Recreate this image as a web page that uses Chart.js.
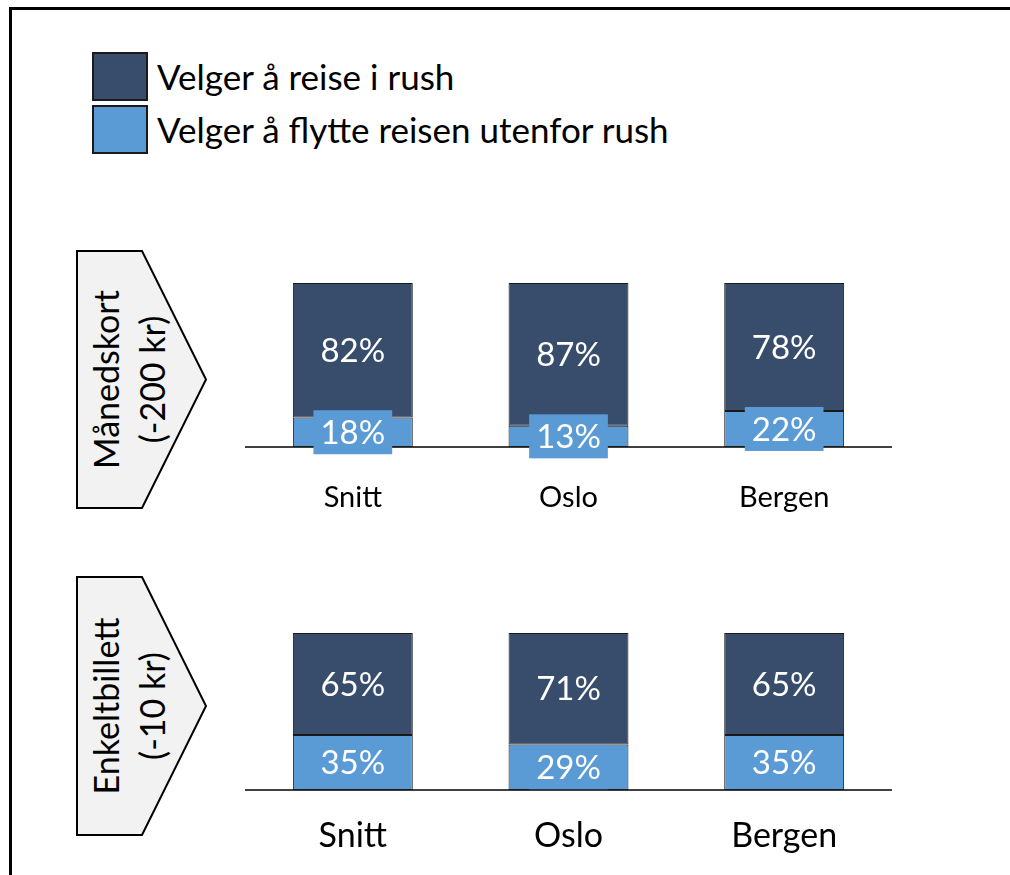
<!DOCTYPE html>
<html>
<head>
<meta charset="utf-8">
<script src="https://cdn.jsdelivr.net/npm/chart.js@4.4.1/dist/chart.umd.min.js"></script>
<style>
  html, body { margin: 0; padding: 0; background: #fff; }
  body { width: 1010px; height: 875px; position: relative; overflow: hidden; font-family: Lato, "Open Sans", sans-serif; }
  .frame { position: absolute; left: 9px; top: 7px; width: 1200px; height: 1000px; border-left: 3px solid #000; border-top: 3px solid #000; }
  .legend-item { position: absolute; left: 92px; height: 48px; display: flex; align-items: center; }
  .legend-item .box { width: 52px; height: 45px; border: 2px solid #1a1a1a; margin-right: 9px; }
  .legend-item span { font-size: 35px; color: #000; }
  canvas { position: absolute; }
  svg { position: absolute; left: 0; top: 0; }
</style>
</head>
<body>
<div class="frame"></div>
<div id="legend"></div>
<svg id="tags" width="1010" height="875"></svg>
<canvas id="c1" width="647" height="250" style="left:245px; top:270px"></canvas>
<canvas id="c2" width="647" height="250" style="left:245px; top:620px"></canvas>
<script>
const categories = ['Snitt', 'Oslo', 'Bergen'];
const seriesNames = ['Velger å reise i rush', 'Velger å flytte reisen utenfor rush'];
const seriesColors = ['#384d6c', '#5b9bd5'];

// Månedskort (-200 kr)
const maanedRush = [82, 87, 78];
const maanedFlytt = [18, 13, 22];
// Enkeltbillett (-10 kr)
const enkeltRush = [65, 71, 65];
const enkeltFlytt = [35, 29, 35];

const panelTitles = [['Månedskort', '(-200 kr)'], ['Enkeltbillett', '(-10 kr)']];

// legend
const legend = document.getElementById('legend');
seriesNames.forEach((name, i) => {
    const item = document.createElement('div');
    item.className = 'legend-item';
    item.style.top = (i === 0 ? 52 : 105) + 'px';
    item.innerHTML = `<div class="box" style="background:${seriesColors[i]}"></div><span>${name}</span>`;
    legend.appendChild(item);
});

// pentagon tags
const svg = document.getElementById('tags');
const tagPos = [{ top: 251, bottom: 508 }, { top: 577, bottom: 835 }];
tagPos.forEach((p, i) => {
    const mid = (p.top + p.bottom) / 2;
    const pts = `77,${p.top} 142,${p.top} 206,${mid} 142,${p.bottom} 77,${p.bottom}`;
    svg.insertAdjacentHTML('beforeend',
        `<polygon points="${pts}" fill="#f2f2f2" stroke="#000" stroke-width="2"/>`);
    [105, 151].forEach((x, j) => {
        svg.insertAdjacentHTML('beforeend',
            `<text transform="translate(${x},${mid}) rotate(-90)" text-anchor="middle" dominant-baseline="central" font-family="Lato" font-size="34" fill="#000">${panelTitles[i][j]}</text>`);
    });
});

const barLabels = {
    id: 'barLabels',
    afterDatasetsDraw(chart) {
        const ctx = chart.ctx;
        ctx.save();
        ctx.font = '33px Lato';
        ctx.textAlign = 'center';
        ctx.textBaseline = 'middle';
        chart.data.datasets.forEach((ds, di) => {
            const meta = chart.getDatasetMeta(di);
            meta.data.forEach((bar, k) => {
                const txt = ds.data[k] + '%';
                const cy = (bar.y + bar.base) / 2;
                if (ds.labelBox) {
                    const w = ctx.measureText(txt).width + 14;
                    ctx.fillStyle = ds.backgroundColor;
                    ctx.fillRect(bar.x - w / 2, cy - 22, w, 44);
                }
                ctx.fillStyle = '#fff';
                ctx.fillText(txt, bar.x, cy + 1);
            });
        });
        ctx.restore();
    }
};

function makeChart(id, flytt, rush, tickSize, tickPad, axisH) {
    new Chart(document.getElementById(id), {
        type: 'bar',
        data: {
            labels: categories,
            datasets: [
                { label: seriesNames[1], data: flytt, backgroundColor: seriesColors[1], labelBox: true },
                { label: seriesNames[0], data: rush, backgroundColor: seriesColors[0] }
            ].map(d => Object.assign(d, {
                borderColor: '#1a1a1a',
                borderWidth: 1,
                borderSkipped: false,
                barPercentage: 0.556,
                categoryPercentage: 1
            }))
        },
        options: {
            responsive: false,
            animation: false,
            events: [],
            layout: { padding: { top: 13, left: 0, right: 0, bottom: 0 } },
            plugins: { legend: { display: false }, tooltip: { enabled: false } },
            scales: {
                x: {
                    stacked: true,
                    grid: { display: false, drawTicks: false },
                    border: { display: true, color: '#404040', width: 2 },
                    ticks: { color: '#000', font: { family: 'Lato', size: tickSize }, padding: tickPad },
                    afterFit(scale) { scale.height = axisH; }
                },
                y: { stacked: true, display: false, min: 0, max: 100 }
            }
        },
        plugins: [barLabels]
    });
}

makeChart('c1', maanedFlytt, maanedRush, 29, 33, 73);
makeChart('c2', enkeltFlytt, enkeltRush, 34, 26, 80);
</script>
</body>
</html>
